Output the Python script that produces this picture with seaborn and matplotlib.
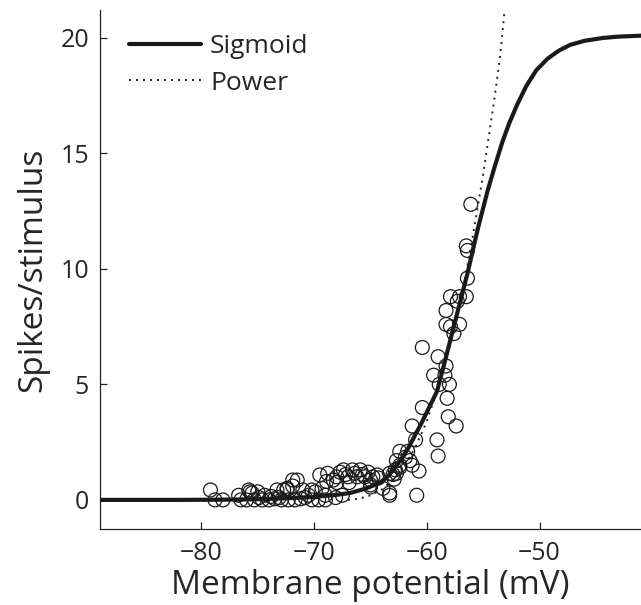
import numpy as np
import pandas as pd
import matplotlib
matplotlib.use("Agg")
import matplotlib.pyplot as plt
import seaborn as sns

# ---- data ----
sig_v = [-89, -82, -78, -75, -72, -70, -68, -66.8, -65.5, -64.2, -63.5, -63, -62.3, -61.7,
         -60.5, -59.1, -58.4, -57.4, -56.4, -55.5, -54.6, -54.0, -53.3, -52.7, -52.0,
         -51.2, -50.3, -49.3, -48.3, -47.3, -46.0, -44.4, -43.0, -41.0]
sig_r = [0, 0, 0.01, 0.03, 0.08, 0.13, 0.22, 0.3, 0.48, 0.73, 1.0, 1.3, 1.75, 2.2,
         3.3, 4.7, 6.0, 7.9, 9.8, 11.7, 13.4, 14.4, 15.5, 16.3, 17.1,
         17.9, 18.6, 19.1, 19.45, 19.7, 19.88, 20.0, 20.06, 20.1]

pow_v = [-67, -66, -65, -64, -63, -62, -61, -60, -59, -58, -57, -56, -55, -54, -53.5, -53.1]
pow_r = [0, 0.05, 0.2, 0.45, 0.85, 1.45, 2.3, 3.4, 4.9, 6.6, 8.6, 11.2, 14.1, 17.4, 19.2, 21.2]

obs_v = [-56.1, -56.5, -56.4, -56.4, -57.9, -57.1, -56.5, -57.3, -58.3, -58.3, -57.1, -57.9,
         -57.6, -60.4, -59.0, -58.3, -59.4, -58.4, -58.9, -58.0, -58.2, -60.4, -58.1, -57.4,
         -61.3, -61.0, -59.1, -59.0,
         -62.4, -61.9, -61.5, -62.7, -61.3, -62.4, -62.8, -60.7, -63.0, -61.7, -60.9, -63.3,
         -63.9, -65.0, -62.7, -62.4, -63.3, -62.9,
         -69.5, -68.8, -68.3, -68.0, -67.7, -67.4, -67.0, -66.6, -66.2, -65.9, -65.5, -65.2,
         -64.8, -64.4, -65.0, -64.3, -67.2, -66.4, -65.7, -68.0, -68.9, -67.5, -68.1, -69.0,
         -69.9, -65.0, -63.3, -66.9,
         -79.2, -78.8, -78.1, -76.7, -76.5, -75.8, -75.5, -75.0, -76.0, -75.3, -74.6, -74.0,
         -73.5, -72.9, -72.3, -71.7, -74.4, -73.8, -73.3, -72.7, -72.4, -71.9, -71.5, -71.9,
         -71.0, -70.2, -69.3, -70.8, -70.2, -71.2, -69.6, -72.4, -75.7, -74.9, -73.1, -70.5,
         -69.0]
obs_r = [12.8, 11.0, 10.8, 9.6, 8.8, 8.8, 8.8, 8.6, 8.2, 7.6, 7.6, 7.5,
         7.2, 6.6, 6.2, 5.8, 5.4, 5.4, 5.0, 5.0, 4.4, 4.0, 3.6, 3.2,
         3.2, 2.6, 2.6, 1.9,
         2.1, 1.85, 1.7, 1.7, 1.5, 1.5, 1.3, 1.25, 1.1, 2.1, 0.2, 0.2,
         0.5, 0.65, 1.15, 1.4, 1.15, 0.9,
         1.08, 1.15, 0.86, 0.75, 1.2, 1.3, 1.0, 1.3, 1.0, 1.3, 1.0, 1.2,
         1.0, 1.08, 0.86, 0.95, 1.1, 1.15, 1.1, 1.0, 0.8, 0.2, 0.1, 0.2,
         0.35, 0.56, 0.3, 0.75,
         0.43, 0.0, 0.0, 0.2, 0.0, 0.43, 0.3, 0.35, 0.0, 0.0, 0.0, 0.0,
         0.05, 0.0, 0.0, 0.0, 0.2, 0.15, 0.43, 0.43, 0.5, 0.86, 0.86, 0.6,
         0.43, 0.43, 0.5, 0.1, 0.0, 0.05, 0.0, 0.45, 0.35, 0.1, 0.1, 0.2,
         0.0]

x_ticks = [-80, -70, -60, -50]
y_ticks = [0, 5, 10, 15, 20]

# ---- style ----
sns.set_style("ticks")
plt.rcParams["font.family"] = ["Open Sans", "DejaVu Sans"]
plt.rcParams["xtick.direction"] = "in"
plt.rcParams["ytick.direction"] = "in"

fig = plt.figure(figsize=(6.41, 6.05), dpi=100)
ax = fig.add_axes([0.156, 0.126, 0.844, 0.857])

sig_df = pd.DataFrame({"v": sig_v, "r": sig_r})
pow_df = pd.DataFrame({"v": pow_v, "r": pow_r})
obs_df = pd.DataFrame({"v": obs_v, "r": obs_r})

sns.lineplot(data=pow_df, x="v", y="r", ax=ax, color="#222222", lw=1.4,
             linestyle=(0, (1.0, 2.6)), label="Power", sort=False, zorder=2)
sns.lineplot(data=sig_df, x="v", y="r", ax=ax, color="#1a1a1a", lw=3.0,
             label="Sigmoid", sort=False, zorder=3)
sns.scatterplot(data=obs_df, x="v", y="r", ax=ax, s=100, facecolor="none",
                edgecolor="#1a1a1a", linewidth=0.9, zorder=4, legend=False)

ax.set_xlim(-89, -41)
ax.set_ylim(-1.25, 21.2)
ax.set_xticks(x_ticks)
ax.set_xticklabels([f"\u2212{abs(t)}" for t in x_ticks])
ax.set_yticks(y_ticks)
ax.set_yticklabels([str(t) for t in y_ticks])
ax.tick_params(axis="both", length=5, width=0.9, labelsize=18, color="#222222")
ax.tick_params(axis="x", pad=9)
ax.tick_params(axis="y", pad=8)
sns.despine(ax=ax)
for sp in ("left", "bottom"):
    ax.spines[sp].set_linewidth(0.9)
    ax.spines[sp].set_color("#222222")

ax.set_xlabel("Membrane potential (mV)", fontsize=24, labelpad=2)
ax.set_ylabel("Spikes/stimulus", fontsize=24, labelpad=8)

h, l = ax.get_legend_handles_labels()
order = [l.index("Sigmoid"), l.index("Power")]
ax.legend([h[i] for i in order], [l[i] for i in order], loc="upper left",
          frameon=False, fontsize=19, handlelength=2.7, handletextpad=0.35,
          borderaxespad=0.0, bbox_to_anchor=(0.035, 0.975), labelspacing=0.45)

fig.savefig("out.png", dpi=100)
